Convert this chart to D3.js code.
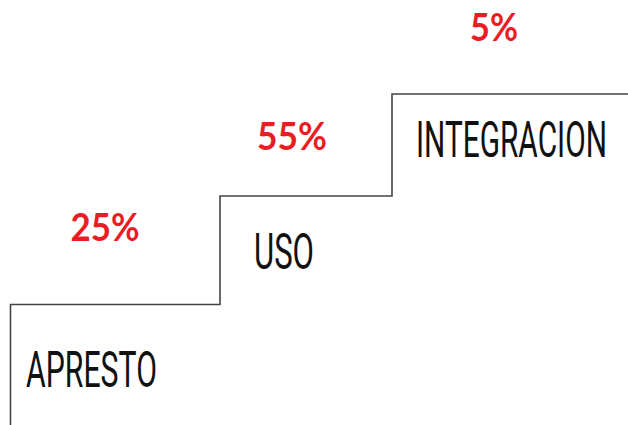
<!DOCTYPE html>
<html><head><meta charset="utf-8">
<script src="https://cdn.jsdelivr.net/npm/d3@7"></script>
<style>html,body{margin:0;padding:0;background:#fff;}svg{display:block;}</style>
</head><body>
<svg id="c" width="628" height="425"></svg>
<script>
// ---- data ----
const categories = ["APRESTO", "USO", "INTEGRACION"];
const percentValues = [25, 55, 5];
const percentLabels = percentValues.map(v => v + "%");

// ---- layout ----
const W = 628, H = 425;
const svg = d3.select("#c");
// step index -> horizontal edge
const x = d3.scaleLinear().domain([0, 1, 2, 3]).range([10.5, 220, 392, 628]);
// level -> vertical position (0 = floor)
const y = d3.scaleLinear().domain([0, 1, 2, 3]).range([425, 304.5, 196, 94]);

// staircase outline
const pts = [[x(0), y(0)]];
categories.forEach((c, i) => {
  pts.push([x(i), y(i + 1)]);
  pts.push([x(i + 1), y(i + 1)]);
});
svg.append("path")
  .attr("d", d3.line()(pts))
  .attr("fill", "none")
  .attr("stroke", "#444")
  .attr("stroke-width", 1.6);

// helper: fit text horizontally to a given width via transform
function fitText(sel, widths) {
  sel.each(function (d, i) {
    const t = d3.select(this);
    const nat = this.getComputedTextLength();
    const sx = widths[i] / nat;
    const tx = +t.attr("data-x"), ty = +t.attr("data-y");
    t.attr("x", 0).attr("y", 0)
     .attr("transform", `translate(${tx},${ty}) scale(${sx},1)`);
  });
}

// category labels (offsets inside each step)
const labDx = [15.5, 34, 24];
const labDy = [82.5, 72.5, 63];
const labW = [131, 60, 191];
const cat = svg.selectAll("text.cat").data(categories).join("text")
  .attr("class", "cat")
  .attr("data-x", (d, i) => x(i) + labDx[i])
  .attr("data-y", (d, i) => y(i + 1) + labDy[i])
  .attr("font-family", "'Liberation Sans Narrow', Roboto, sans-serif")
  .attr("font-size", 50)
  .attr("fill", "#111")
  .text(d => d);
fitText(cat, labW);

// percent labels
const pctCx = [105, 292, 494];
const pctDy = [-63.5, -46, -53.3];
const pctW = [69, 70, 48];
const pct = svg.selectAll("text.pct").data(percentLabels).join("text")
  .attr("class", "pct")
  .attr("data-x", (d, i) => pctCx[i] - pctW[i] / 2)
  .attr("data-y", (d, i) => y(i + 1) + pctDy[i])
  .attr("font-family", "Lato, 'Open Sans', sans-serif")
  .attr("font-weight", 700)
  .attr("font-size", 38)
  .attr("fill", "#ec1c24")
  .text(d => d);
fitText(pct, pctW);
</script>
</body></html>
